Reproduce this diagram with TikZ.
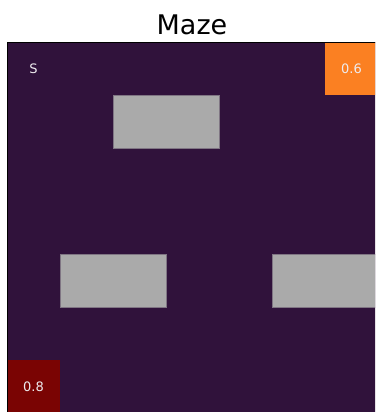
\documentclass[tikz,border=0pt]{standalone}
\usepackage{fontspec}
\setmainfont{DejaVu Sans}
\usetikzlibrary{positioning}
\definecolor{mazebg}{HTML}{30123B}
\definecolor{goalfar}{HTML}{7A0403}
\definecolor{goalnear}{HTML}{FB8022}
\definecolor{wallgray}{HTML}{AAAAAA}

\begin{document}
\begin{tikzpicture}[x=1pt,y=-1pt,
    cell/.style={anchor=north west,inner sep=0pt,outer sep=0pt,minimum width=53pt,minimum height=53pt},
    wall/.style={cell,fill=wallgray,draw=wallgray!65!mazebg,line width=0.8pt,minimum width=106pt},
    celltext/.style={text=white!92!mazebg,font=\fontsize{13}{15}\selectfont}]
  \def\c{53}
  \clip (0,0) rectangle (375,412);
  \fill[white] (0,0) rectangle (375,412);
  % title
  \node[anchor=base,font=\fontsize{27}{30}\selectfont] (title) at (192,35) {Maze};
  % board
  \fill[mazebg] (7,42) rectangle ++(7*\c,7*\c);
  \node[cell,fill=goalnear,celltext] (near) at (7+6*\c,42) {0.6};
  \node[cell,fill=goalfar,celltext] (far) at (7,42+6*\c) {0.8};
  \node[cell,celltext] (start) at (7,42) {S};
  % walls
  \node[wall] (wallA) at (7+2*\c,42+\c) {};
  \node[wall] (wallB) at (7+\c,42+4*\c) {};
  \node[wall] (wallC) at (7+5*\c,42+4*\c) {};
  \draw[black,line width=0.8pt] (7,42) rectangle ++(7*\c,7*\c);
\end{tikzpicture}
\end{document}
